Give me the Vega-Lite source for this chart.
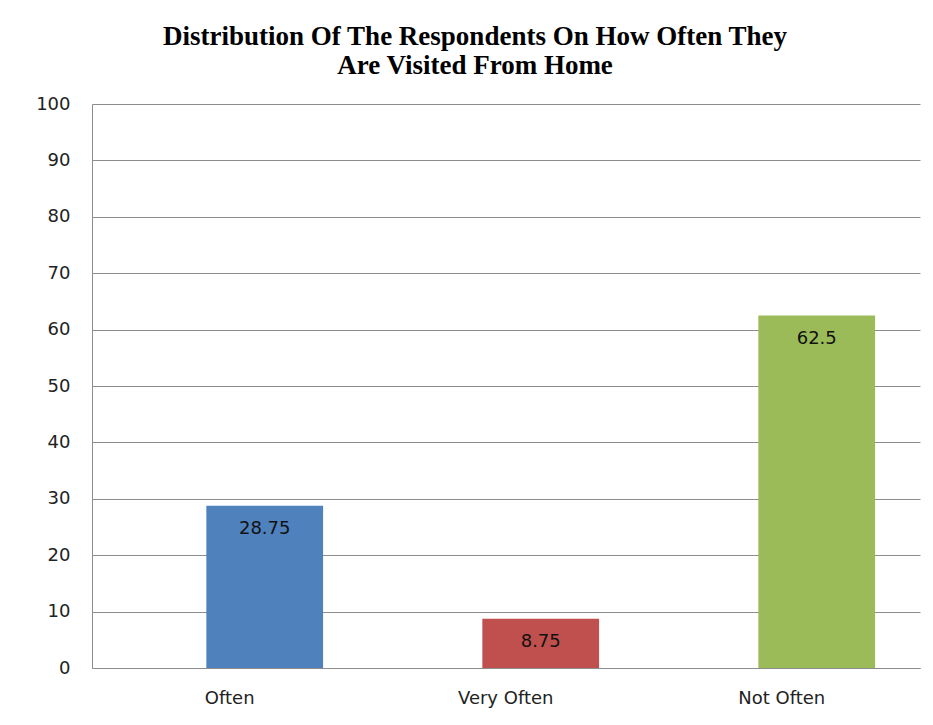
{
  "$schema": "https://vega.github.io/schema/vega-lite/v6.json",
  "width": 828,
  "height": 564,
  "autosize": {"type": "none"},
  "padding": {"left": 92, "top": 104, "right": 13, "bottom": 57},
  "background": "white",
  "title": {
    "text": ["Distribution Of The Respondents On How Often They", "Are Visited From Home"],
    "font": "Liberation Serif",
    "fontSize": 27,
    "fontWeight": "bold",
    "lineHeight": 29,
    "color": "#000000",
    "anchor": "middle",
    "dx": -31,
    "offset": 15
  },
  "data": {
    "values": [
      {"category": "Often", "value": 28.75},
      {"category": "Very Often", "value": 8.75},
      {"category": "Not Often", "value": 62.5}
    ]
  },
  "encoding": {
    "x": {
      "field": "category",
      "type": "nominal",
      "sort": ["Often", "Very Often", "Not Often"],
      "scale": {"paddingInner": 0.577, "paddingOuter": 0.2885, "align": 0.718},
      "axis": {
        "title": null,
        "labelAngle": 0,
        "labelOffset": -35,
        "labelFont": "DejaVu Sans",
        "labelFontSize": 18,
        "labelColor": "#222222",
        "labelPadding": 21,
        "ticks": false,
        "domain": true,
        "domainColor": "#8c8c8c",
        "grid": false
      }
    },
    "y": {
      "field": "value",
      "type": "quantitative",
      "scale": {"domain": [0, 100]},
      "axis": {
        "title": null,
        "values": [0, 10, 20, 30, 40, 50, 60, 70, 80, 90, 100],
        "labelFont": "DejaVu Sans",
        "labelFontSize": 18,
        "labelColor": "#222222",
        "labelPadding": 22,
        "ticks": false,
        "domainColor": "#8c8c8c",
        "gridColor": "#8c8c8c",
        "gridWidth": 1
      }
    }
  },
  "layer": [
    {
      "mark": {"type": "bar"},
      "encoding": {
        "color": {
          "field": "category",
          "type": "nominal",
          "scale": {"domain": ["Often", "Very Often", "Not Often"], "range": ["#4F81BD", "#C0504D", "#9BBB59"]},
          "legend": null
        }
      }
    },
    {
      "mark": {"type": "text", "baseline": "middle", "dy": 23, "font": "DejaVu Sans", "fontSize": 18, "color": "#111111"},
      "encoding": {"text": {"field": "value", "type": "quantitative"}}
    }
  ],
  "config": {"view": {"stroke": null}}
}
